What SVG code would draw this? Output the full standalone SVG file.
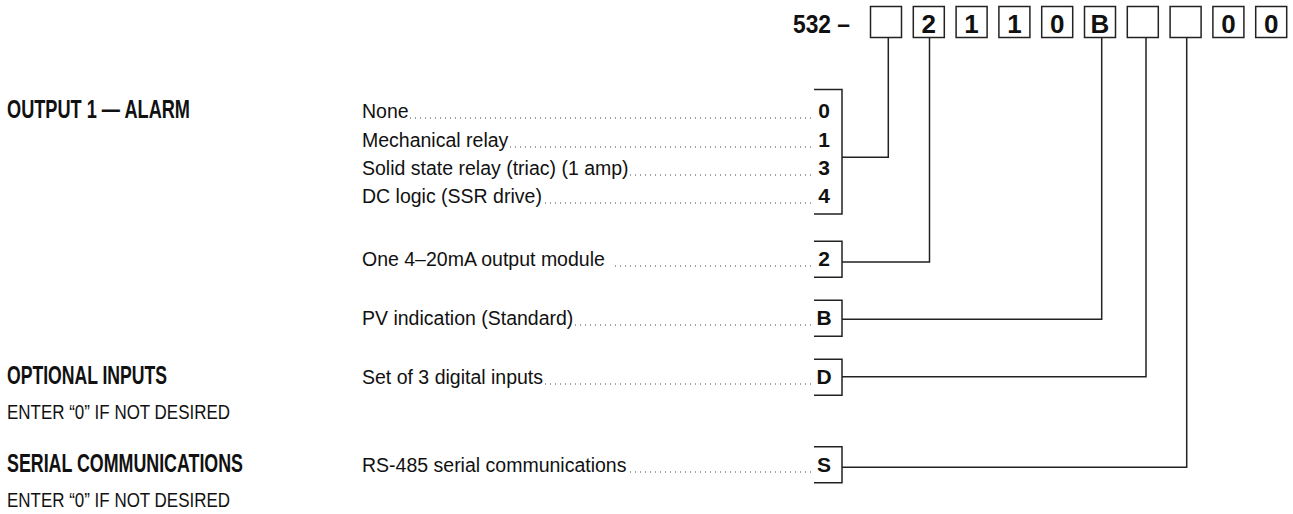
<svg xmlns="http://www.w3.org/2000/svg" width="1293" height="514" viewBox="0 0 1293 514">
<style>
.hd{font-family:"Liberation Sans Narrow","Liberation Sans",Arial,sans-serif;font-weight:bold;font-size:25px;fill:#111}
.note{font-family:"Liberation Sans Narrow","Liberation Sans",Arial,sans-serif;font-size:20.5px;fill:#111}
.opt{font-family:"Liberation Sans",Arial,sans-serif;font-size:19.5px;fill:#111}
.code{font-family:"Liberation Sans Narrow","Liberation Sans",Arial,sans-serif;font-weight:bold;font-size:26px;fill:#111;text-anchor:middle}
.bd{font-family:"Liberation Sans Narrow","Liberation Sans",Arial,sans-serif;font-weight:bold;font-size:21px;fill:#111;text-anchor:middle}
.box{fill:none;stroke:#222;stroke-width:1.5}
.br{fill:none;stroke:#222;stroke-width:1.5}
.dots{stroke:#444;stroke-width:1.1;stroke-dasharray:1 4}
.con{fill:none;stroke:#222;stroke-width:1.5}
</style>

<g id="model-code">
<text x="793" y="33" class="hd" textLength="57" lengthAdjust="spacingAndGlyphs">532 –</text>
<rect class="box" x="870.5" y="6.5" width="31" height="31"/>
<rect class="box" x="913.3" y="6.5" width="31" height="31"/>
<rect class="box" x="956.1" y="6.5" width="31" height="31"/>
<rect class="box" x="998.9" y="6.5" width="31" height="31"/>
<rect class="box" x="1041.7" y="6.5" width="31" height="31"/>
<rect class="box" x="1084.5" y="6.5" width="31" height="31"/>
<rect class="box" x="1127.3" y="6.5" width="31" height="31"/>
<rect class="box" x="1170.1" y="6.5" width="31" height="31"/>
<rect class="box" x="1212.9" y="6.5" width="31" height="31"/>
<rect class="box" x="1255.7" y="6.5" width="31" height="31"/>
<text class="code" x="928.8" y="33">2</text>
<text class="code" x="971.6" y="33">1</text>
<text class="code" x="1014.4" y="33">1</text>
<text class="code" x="1057.2" y="33">0</text>
<text class="code" x="1100" y="33">B</text>
<text class="code" x="1228.4" y="33">0</text>
<text class="code" x="1271.2" y="33">0</text>
</g>

<g id="headings">
<text x="7" y="118" class="hd" textLength="183" lengthAdjust="spacingAndGlyphs">OUTPUT 1 — ALARM</text>
<text x="7" y="384" class="hd" textLength="160" lengthAdjust="spacingAndGlyphs">OPTIONAL INPUTS</text>
<text x="7" y="418.5" class="note" textLength="223" lengthAdjust="spacingAndGlyphs">ENTER “0” IF NOT DESIRED</text>
<text x="7" y="472" class="hd" textLength="236" lengthAdjust="spacingAndGlyphs">SERIAL COMMUNICATIONS</text>
<text x="7" y="506.5" class="note" textLength="223" lengthAdjust="spacingAndGlyphs">ENTER “0” IF NOT DESIRED</text>
</g>

<g id="output1-alarm">
<text class="opt" x="362" y="118">None</text>
<text class="opt" x="362" y="147">Mechanical relay</text>
<text class="opt" x="362" y="175">Solid state relay (triac) (1 amp)</text>
<text class="opt" x="362" y="203">DC logic (SSR drive)</text>
<line class="dots" x1="811" y1="118" x2="410" y2="118"/>
<line class="dots" x1="811" y1="147" x2="510" y2="147"/>
<line class="dots" x1="811" y1="175" x2="630" y2="175"/>
<line class="dots" x1="811" y1="203" x2="543" y2="203"/>
<path class="br" d="M814 89.5 H842 V214 H814"/>
<text class="bd" x="824" y="118">0</text>
<text class="bd" x="824" y="147">1</text>
<text class="bd" x="824" y="175">3</text>
<text class="bd" x="824" y="203">4</text>
</g>

<g id="output-module">
<text class="opt" x="362" y="266">One 4–20mA output module</text>
<line class="dots" x1="811" y1="266" x2="612" y2="266"/>
<path class="br" d="M814 241.3 H842 V277.3 H814"/>
<text class="bd" x="824" y="265.5">2</text>
</g>

<g id="pv-indication">
<text class="opt" x="362" y="325">PV indication (Standard)</text>
<line class="dots" x1="811" y1="325" x2="575" y2="325"/>
<path class="br" d="M814 300.3 H842 V336.3 H814"/>
<text class="bd" x="824" y="324.5">B</text>
</g>

<g id="optional-inputs">
<text class="opt" x="362" y="384">Set of 3 digital inputs</text>
<line class="dots" x1="811" y1="384" x2="545" y2="384"/>
<path class="br" d="M814 359.3 H842 V395.3 H814"/>
<text class="bd" x="824" y="383.5">D</text>
</g>

<g id="serial-comms">
<text class="opt" x="362" y="472">RS-485 serial communications</text>
<line class="dots" x1="811" y1="472" x2="628" y2="472"/>
<path class="br" d="M814 446.7 H842 V482.7 H814"/>
<text class="bd" x="824" y="471.5">S</text>
</g>

<g id="connectors">
<path class="con" d="M842 157.3 H888.3 V37.5"/>
<path class="con" d="M842 262 H929.5 V37.5"/>
<path class="con" d="M842 319.3 H1101.7 V37.5"/>
<path class="con" d="M842 376.7 H1146 V37.5"/>
<path class="con" d="M842 467.3 H1186.7 V37.5"/>
</g>
</svg>
